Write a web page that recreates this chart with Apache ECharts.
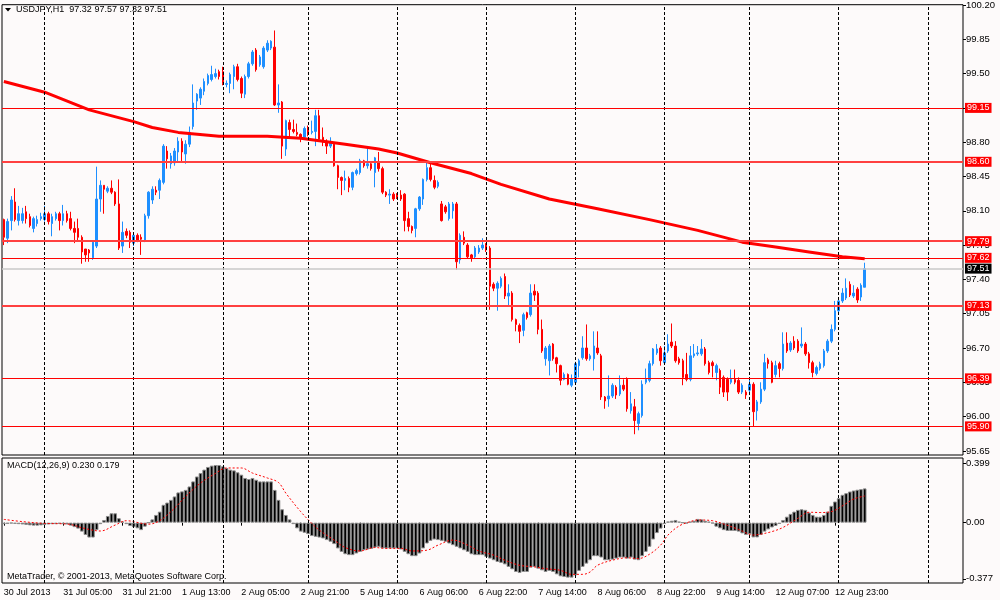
<!DOCTYPE html>
<html><head><meta charset="utf-8">
<script src="https://cdn.jsdelivr.net/npm/echarts@6/dist/echarts.min.js"></script>
<style>html,body{margin:0;padding:0;background:#fdfafa}#c{width:1000px;height:600px}</style>
</head><body><div id="c"></div><script>
// ---------- DATA ----------
const symbolName = 'USDJPY,H1';
const xTickLabels = ['30 Jul 2013','31 Jul 05:00','31 Jul 21:00','1 Aug 13:00','2 Aug 05:00','2 Aug 21:00','5 Aug 14:00','6 Aug 06:00','6 Aug 22:00','7 Aug 14:00','8 Aug 06:00','8 Aug 22:00','9 Aug 14:00','12 Aug 07:00','12 Aug 23:00'];
const priceTicks = [100.20,99.85,99.50,99.15,98.80,98.45,98.10,97.75,97.40,97.05,96.70,96.35,96.00,95.65];
const macdTicks = [0.399,0,-0.377];
const levels = [99.15,98.60,97.79,97.62,97.13,96.39,95.90];
const bidPrice = 97.51;
const dayStarts = [11,35,59,82,106,130,154,178,201,225,249];

const open = [98.01,97.82,98.00,98.19,98.00,98.00,98.09,98.04,97.92,97.97,
98.02,98.01,98.07,97.97,98.02,98.07,98.00,98.07,98.02,97.92,
97.92,97.83,97.71,97.70,97.62,97.74,98.22,98.36,98.30,98.33,
98.29,98.17,97.74,97.89,97.88,97.77,97.85,97.83,97.80,98.05,
98.21,98.31,98.31,98.39,98.71,98.58,98.59,98.70,98.81,98.68,
98.78,98.96,99.22,99.25,99.32,99.40,99.44,99.47,99.52,99.52,
99.39,99.40,99.47,99.57,99.45,99.29,99.47,99.60,99.74,99.59,
99.57,99.74,99.76,99.77,99.18,99.21,98.73,99.00,98.93,98.90,
98.88,98.85,98.95,98.90,98.91,99.07,98.85,98.81,98.76,98.78,
98.56,98.44,98.41,98.43,98.34,98.48,98.49,98.61,98.56,98.58,
98.49,98.59,98.53,98.29,98.26,98.27,98.26,98.26,98.27,98.02,
97.94,97.92,98.12,98.22,98.42,98.54,98.41,98.35,98.17,98.14,
98.02,98.10,98.17,97.60,97.83,97.75,97.65,97.63,97.68,97.72,
97.75,97.72,97.35,97.31,97.33,97.43,97.23,97.26,96.99,96.93,
96.88,97.06,97.04,97.28,97.26,96.89,96.59,96.57,96.74,96.60,
96.52,96.38,96.43,96.32,96.35,96.52,96.60,96.70,96.59,96.59,
96.70,96.62,96.20,96.18,96.21,96.30,96.23,96.32,96.38,96.06,
96.10,95.93,96.01,96.35,96.37,96.54,96.65,96.70,96.55,96.67,
96.76,96.72,96.59,96.57,96.43,96.38,96.62,96.64,96.64,96.69,
96.55,96.55,96.45,96.47,96.40,96.38,96.35,96.38,96.37,96.25,
96.25,96.27,96.33,96.06,96.15,96.28,96.58,96.55,96.43,96.54,
96.49,96.75,96.68,96.77,96.77,96.72,96.74,96.64,96.55,96.44,
96.49,96.52,96.67,96.77,96.89,97.08,97.18,97.21,97.35,97.23,
97.30,97.22,97.32];
const high = [98.02,98.02,98.25,98.33,98.15,98.13,98.15,98.07,98.04,98.05,
98.08,98.15,98.09,98.07,98.09,98.09,98.16,98.10,98.09,97.99,
98.02,97.85,97.71,97.71,97.80,98.55,98.41,98.36,98.35,98.41,
98.30,98.42,97.99,97.92,97.90,97.88,97.87,97.86,98.07,98.30,
98.35,98.35,98.43,98.78,98.76,98.69,98.74,98.85,98.84,98.82,
98.96,99.39,99.30,99.36,99.45,99.50,99.58,99.55,99.54,99.57,
99.43,99.51,99.59,99.60,99.47,99.49,99.62,99.74,99.76,99.69,
99.78,99.84,99.84,99.94,99.39,99.22,99.03,99.03,99.03,98.99,
98.89,98.96,98.97,99.02,99.13,99.13,98.95,98.83,98.85,98.80,
98.57,98.45,98.51,98.45,98.50,98.53,98.63,98.62,98.76,98.60,
98.65,98.70,98.55,98.30,98.32,98.29,98.28,98.31,98.28,98.09,
97.95,98.13,98.25,98.43,98.59,98.59,98.46,98.41,98.20,98.16,
98.19,98.19,98.19,97.87,97.89,97.77,97.66,97.74,97.75,97.82,
97.77,97.74,97.37,97.38,97.43,97.46,97.35,97.28,97.00,96.95,
97.06,97.07,97.35,97.35,97.28,96.99,96.72,96.74,96.75,96.61,
96.53,96.45,96.44,96.43,96.56,96.59,96.82,96.94,96.64,96.87,
96.87,96.64,96.21,96.42,96.34,96.32,96.42,96.38,96.40,96.25,
96.18,96.05,96.37,96.49,96.57,96.70,96.74,96.72,96.72,96.84,
96.95,96.77,96.61,96.59,96.65,96.72,96.74,96.72,96.79,96.71,
96.57,96.57,96.54,96.49,96.42,96.40,96.48,96.48,96.40,96.34,
96.27,96.38,96.35,96.17,96.35,96.64,96.60,96.57,96.57,96.56,
96.86,96.86,96.77,96.82,96.79,96.91,96.76,96.66,96.57,96.52,
96.56,96.69,96.79,96.94,97.18,97.20,97.31,97.41,97.38,97.34,
97.32,97.36,97.57];
const low = [97.75,97.77,97.90,97.99,97.95,97.97,97.97,97.93,97.88,97.94,
98.00,97.99,97.96,97.84,98.00,97.90,97.95,97.98,97.90,97.77,
97.80,97.56,97.58,97.58,97.60,97.72,98.09,98.07,98.28,98.27,
98.15,97.70,97.67,97.82,97.72,97.74,97.78,97.65,97.78,98.02,
98.17,98.26,98.22,98.37,98.53,98.53,98.56,98.59,98.59,98.58,
98.75,98.93,99.13,99.18,99.28,99.38,99.42,99.45,99.44,99.38,
99.36,99.30,99.34,99.42,99.25,99.25,99.45,99.58,99.52,99.57,
99.55,99.72,99.74,99.17,99.10,98.63,98.66,98.85,98.89,98.86,
98.80,98.83,98.86,98.88,98.76,98.81,98.76,98.68,98.74,98.55,
98.32,98.26,98.31,98.29,98.31,98.46,98.47,98.54,98.53,98.51,
98.34,98.50,98.27,98.24,98.17,98.20,98.22,98.20,97.89,97.89,
97.87,97.83,98.10,98.16,98.40,98.40,98.32,98.33,97.99,98.07,
98.00,98.02,97.50,97.56,97.75,97.61,97.58,97.61,97.66,97.70,
97.68,97.09,97.28,97.08,97.31,97.20,97.13,96.97,96.87,96.75,
96.82,96.99,97.02,97.18,96.84,96.65,96.52,96.42,96.57,96.45,
96.32,96.37,96.32,96.30,96.33,96.40,96.58,96.57,96.57,96.47,
96.63,96.17,96.08,96.10,96.19,96.18,96.21,96.26,96.05,96.03,
95.82,95.86,95.99,96.33,96.35,96.52,96.63,96.52,96.53,96.65,
96.70,96.55,96.53,96.32,96.36,96.36,96.60,96.62,96.62,96.52,
96.43,96.40,96.37,96.23,96.20,96.16,96.33,96.33,96.23,96.23,
96.18,96.24,95.90,95.96,96.13,96.26,96.49,96.34,96.40,96.40,
96.47,96.65,96.66,96.68,96.65,96.70,96.62,96.49,96.40,96.42,
96.47,96.50,96.65,96.75,96.87,97.06,97.16,97.19,97.22,97.21,
97.16,97.18,97.32];
const close = [97.83,97.99,98.21,98.01,98.07,98.07,98.02,97.95,98.02,98.01,
98.04,98.07,97.99,98.04,98.07,98.00,98.07,98.00,97.92,97.88,
97.83,97.68,97.65,97.67,97.78,98.22,98.36,98.32,98.33,98.29,
98.17,97.72,97.88,97.85,97.78,97.85,97.80,97.81,98.05,98.29,
98.32,98.29,98.41,98.76,98.63,98.66,98.71,98.81,98.70,98.78,
98.90,99.20,99.29,99.34,99.42,99.48,99.49,99.50,99.47,99.40,
99.40,99.49,99.57,99.44,99.30,99.47,99.60,99.72,99.54,99.67,
99.76,99.81,99.83,99.18,99.20,98.76,99.02,98.93,98.91,98.88,
98.85,98.94,98.88,98.91,99.07,98.83,98.80,98.76,98.80,98.56,
98.44,98.41,98.43,98.34,98.49,98.51,98.61,98.56,98.58,98.53,
98.64,98.53,98.29,98.26,98.27,98.22,98.24,98.22,98.00,97.94,
97.90,98.12,98.24,98.42,98.54,98.42,98.34,98.39,98.00,98.09,
98.17,98.17,97.58,97.85,97.77,97.63,97.62,97.72,97.72,97.75,
97.70,97.33,97.31,97.36,97.41,97.23,97.26,96.99,96.94,96.87,
97.04,97.01,97.26,97.24,96.89,96.67,96.70,96.72,96.59,96.54,
96.37,96.43,96.33,96.38,96.54,96.57,96.70,96.59,96.62,96.72,
96.65,96.20,96.16,96.21,96.32,96.22,96.32,96.28,96.08,96.13,
95.96,96.03,96.33,96.38,96.54,96.69,96.69,96.57,96.65,96.74,
96.72,96.57,96.55,96.40,96.38,96.62,96.64,96.65,96.69,96.54,
96.45,96.52,96.52,96.30,96.25,96.25,96.38,96.35,96.25,96.32,
96.22,96.33,96.05,96.15,96.28,96.55,96.54,96.35,96.52,96.49,
96.74,96.67,96.75,96.70,96.67,96.74,96.64,96.55,96.45,96.50,
96.54,96.67,96.77,96.89,97.08,97.18,97.26,97.31,97.24,97.26,
97.19,97.34,97.51];

// moving average read at selected bars
const maBars = [0,11,23,35,40,47,58,71,80,88,92,101,106,115,126,134,147,160,174,187,199,208,217,226,232];
const maVals = [99.42,99.31,99.13,99.01,98.95,98.90,98.86,98.86,98.84,98.80,98.78,98.73,98.69,98.59,98.48,98.37,98.22,98.12,98.01,97.90,97.78,97.73,97.68,97.63,97.61];

const macd = [-0.010,-0.008,-0.005,-0.008,-0.010,-0.012,-0.015,-0.018,-0.020,-0.020,
-0.018,-0.015,-0.012,-0.010,-0.010,-0.008,-0.010,-0.012,-0.020,-0.030,
-0.040,-0.060,-0.083,-0.100,-0.100,-0.050,-0.010,0.018,0.045,0.063,
0.063,0.030,0.007,-0.010,-0.022,-0.030,-0.038,-0.050,-0.027,0.000,
0.022,0.052,0.074,0.120,0.135,0.153,0.176,0.203,0.210,0.220,
0.243,0.277,0.310,0.333,0.356,0.374,0.383,0.387,0.387,0.378,
0.367,0.356,0.351,0.338,0.322,0.300,0.293,0.300,0.288,0.277,
0.277,0.277,0.277,0.220,0.153,0.090,0.052,0.022,-0.010,-0.038,
-0.060,-0.068,-0.077,-0.090,-0.095,-0.100,-0.106,-0.117,-0.128,-0.144,
-0.173,-0.196,-0.212,-0.218,-0.218,-0.207,-0.196,-0.185,-0.180,-0.176,
-0.167,-0.162,-0.173,-0.173,-0.173,-0.173,-0.173,-0.180,-0.196,-0.212,
-0.225,-0.225,-0.207,-0.173,-0.140,-0.122,-0.113,-0.117,-0.122,-0.128,
-0.140,-0.151,-0.162,-0.173,-0.185,-0.196,-0.212,-0.218,-0.218,-0.218,
-0.230,-0.241,-0.252,-0.264,-0.270,-0.280,-0.297,-0.313,-0.331,-0.338,
-0.331,-0.331,-0.302,-0.297,-0.309,-0.320,-0.331,-0.324,-0.331,-0.347,
-0.360,-0.365,-0.369,-0.369,-0.354,-0.324,-0.297,-0.275,-0.252,-0.225,
-0.225,-0.234,-0.252,-0.252,-0.248,-0.241,-0.234,-0.234,-0.241,-0.234,
-0.248,-0.252,-0.225,-0.196,-0.162,-0.113,-0.070,-0.040,-0.010,0.008,
0.013,0.018,0.007,0.000,-0.005,0.007,0.013,0.025,0.022,0.013,
0.007,-0.005,-0.027,-0.038,-0.050,-0.056,-0.056,-0.056,-0.060,-0.072,
-0.083,-0.077,-0.099,-0.099,-0.083,-0.060,-0.045,-0.032,-0.022,-0.009,
0.018,0.040,0.059,0.074,0.086,0.090,0.086,0.068,0.052,0.040,
0.040,0.052,0.074,0.113,0.142,0.164,0.187,0.198,0.209,0.216,
0.221,0.225,0.230];

// signal line read at selected bars
const sigBars = [0,5,11,17,22,26,30,33,39,42,46,49,53,57,60,64,67,71,74,76,80,83,85,89,92,96,100,103,107,110,114,117,121,125,128,132,135,139,143,146,150,153,156,158,160,164,168,171,174,177,179,182,185,187,191,194,198,202,204,207,210,214,217,220,223,226,229,232];
const sigVals = [0.022,0.007,-0.005,-0.009,-0.040,-0.056,-0.016,0.013,-0.010,0.013,0.097,0.176,0.266,0.330,0.367,0.367,0.333,0.300,0.270,0.198,0.074,-0.005,-0.050,-0.117,-0.167,-0.190,-0.167,-0.173,-0.173,-0.190,-0.185,-0.151,-0.117,-0.151,-0.190,-0.218,-0.252,-0.286,-0.297,-0.309,-0.320,-0.347,-0.347,-0.331,-0.286,-0.252,-0.236,-0.241,-0.212,-0.151,-0.083,-0.022,0.007,0.018,0.013,-0.009,-0.045,-0.083,-0.077,-0.060,-0.032,0.029,0.070,0.068,0.074,0.113,0.158,0.179];

// ---------- BUILD ----------
const SLOTS = 259;
function buildHours(n){
  const M=['Jan','Feb','Mar','Apr','May','Jun','Jul','Aug','Sep','Oct','Nov','Dec'];
  const out=[]; let t=Date.UTC(2013,6,30,13);
  for(let i=0;i<n;i++){
    const d=new Date(t);
    out.push(d.getUTCDate()+' '+M[d.getUTCMonth()]+' '+String(d.getUTCHours()).padStart(2,'0')+':00');
    t+=3600e3;
    const nx=new Date(t);
    if(nx.getUTCDay()===5 && nx.getUTCHours()===23) t+=49*3600e3;
  }
  return out;
}
const hours = buildHours(SLOTS);
const candles = open.map((o,i)=>[o, close[i], low[i], high[i]]);
const maData = maBars.map((b,i)=>[b, maVals[i]]);
const sigData = sigBars.map((b,i)=>[b, sigVals[i]]);
const last = open.length-1;

const FONT = '"Liberation Sans", Arial, sans-serif';
const thick = [98.60,97.79,97.13];
const showTick = (i)=> i%16===0 && i/16 < xTickLabels.length;
const vLines = dayStarts.map(d=>({xAxis:d, lineStyle:{color:'#000000', type:[3,2], width:1, opacity:1}, label:{show:false}}));
const levelLines = levels.map(v=>{
  const t = thick.indexOf(v) >= 0;
  return {
    yAxis:v,
    lineStyle:{color: t ? '#ff4040' : '#ff0000', width: t ? 2 : 1, type:'solid', opacity:1},
    label:{show:true, position:'end', distance:2, formatter:()=>v.toFixed(2), color:'#ffffff', backgroundColor:'#ff0000', padding:[1,2,0,2], fontSize:9, fontFamily:FONT}
  };
});
const bidLine = {yAxis:bidPrice, lineStyle:{color:'#c8c8c8', width:1.5, type:'solid', opacity:1},
  label:{show:true, position:'end', distance:2, formatter:()=>bidPrice.toFixed(2), color:'#ffffff', backgroundColor:'#000000', padding:[1,2,0,2], fontSize:9, fontFamily:FONT}};

const chart = echarts.init(document.getElementById('c'));
chart.setOption({
  animation:false,
  backgroundColor:'#fdfafa',
  textStyle:{fontFamily:FONT},
  grid:[
    {left:2, right:37, top:1, height:454, show:true, borderColor:'#000', borderWidth:1, backgroundColor:'transparent'},
    {left:2, right:37, top:458, height:125, show:true, borderColor:'#000', borderWidth:1, backgroundColor:'transparent'}
  ],
  xAxis:[
    {type:'category', gridIndex:0, data:hours, boundaryGap:true, axisLine:{show:false}, axisTick:{show:false}, axisLabel:{show:false}, splitLine:{show:false}},
    {type:'category', gridIndex:1, data:hours, boundaryGap:true, axisLine:{show:false},
      axisTick:{show:true, alignWithLabel:true, interval:showTick, length:3, lineStyle:{color:'#000'}},
      axisLabel:{show:true, interval:showTick, formatter:(v,i)=>xTickLabels[Math.round(i/16)], align:'left', margin:5, color:'#000', fontSize:9, fontFamily:FONT},
      splitLine:{show:false}}
  ],
  yAxis:[
    {type:'value', gridIndex:0, position:'right', min:95.608, max:100.203, splitLine:{show:false}, axisLine:{show:false},
      axisTick:{show:true, length:3, customValues:priceTicks, lineStyle:{color:'#000'}},
      axisLabel:{customValues:priceTicks, formatter:v=>v.toFixed(2), color:'#000', fontSize:9.5, margin:3, fontFamily:FONT}},
    {type:'value', gridIndex:1, position:'right', min:-0.405, max:0.434, splitLine:{show:false}, axisLine:{show:false},
      axisTick:{show:true, length:3, customValues:macdTicks, lineStyle:{color:'#000'}},
      axisLabel:{customValues:macdTicks, formatter:v=> v===0?'0.00':v.toFixed(3), color:'#000', fontSize:9.5, margin:3, fontFamily:FONT}}
  ],
  series:[
    {type:'line', name:'levels', xAxisIndex:0, yAxisIndex:0, data:[], symbol:'none', z:1,
      lineStyle:{color:'#ff0000'}, itemStyle:{color:'#ff0000'},
      markLine:{silent:true, symbol:['none','none'], animation:false, data:[...vLines, ...levelLines, bidLine]}},
    {type:'candlestick', xAxisIndex:0, yAxisIndex:0, data:candles, barWidth:2,
      itemStyle:{color:'#1e8fff', color0:'#ff0000', borderColor:'#1e8fff', borderColor0:'#ff0000', borderWidth:1}, z:3},
    {type:'line', xAxisIndex:0, yAxisIndex:0, data:maData, showSymbol:false, symbol:'none',
      lineStyle:{color:'#ff0000', width:3}, z:4},
    {type:'bar', xAxisIndex:1, yAxisIndex:1, data:macd, barWidth:'100%',
      itemStyle:{color:'#000', borderColor:'#8c8c8c', borderWidth:1},
      markLine:{silent:true, symbol:['none','none'], animation:false, data:vLines}},
    {type:'line', xAxisIndex:1, yAxisIndex:1, data:sigData, showSymbol:false, symbol:'none', smooth:0.35,
      lineStyle:{color:'#ff0000', width:1, type:[2,2]}, z:4}
  ],
  graphic:[
    {type:'polygon', shape:{points:[[5,8],[11,8],[8,11.5]]}, style:{fill:'#000'}},
    {type:'text', x:16, y:10, style:{text:symbolName+'  '+[open[last],high[last],low[last],close[last]].map(v=>v.toFixed(2)).join(' '), fill:'#000', font:'9px '+FONT, textVerticalAlign:'middle'}},
    {type:'text', x:7, y:466, style:{text:'MACD(12,26,9) '+macd[last].toFixed(3)+' '+sigVals[sigVals.length-1].toFixed(3), fill:'#000', font:'9px '+FONT, textVerticalAlign:'middle'}},
    {type:'text', x:7, y:577, style:{text:'MetaTrader, © 2001-2013, MetaQuotes Software Corp.', fill:'#000', font:'9px '+FONT, textVerticalAlign:'middle'}}
  ]
});
</script></body></html>
